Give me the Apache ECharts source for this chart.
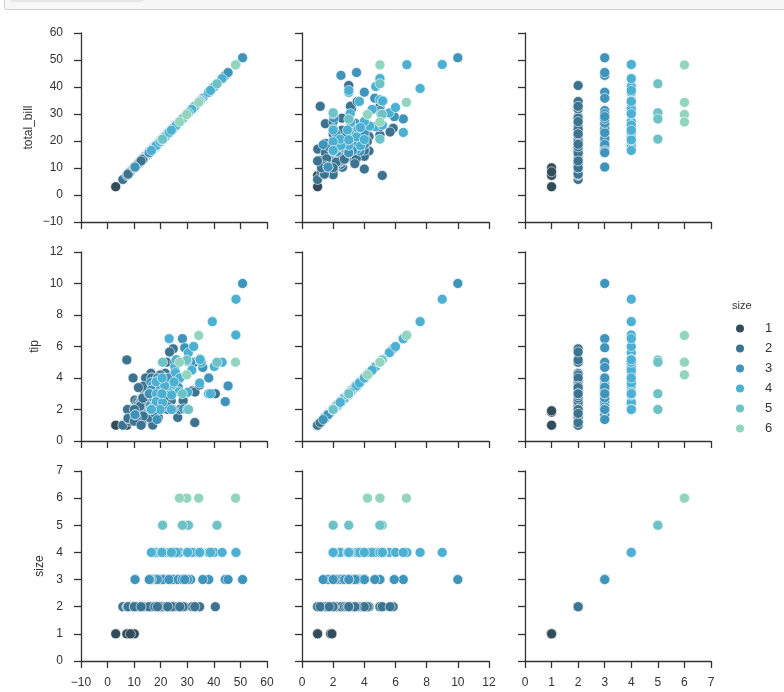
<!DOCTYPE html>
<html><head><meta charset="utf-8">
<script src="https://cdn.jsdelivr.net/npm/echarts@6/dist/echarts.min.js"></script>
<style>html,body{margin:0;padding:0;background:#fff}#c{width:784px;height:692px}</style>
</head><body><div id="c"></div>
<script>
const total_bill = [16.99,10.34,21.01,23.68,24.59,25.29,8.77,26.88,15.04,14.78,
10.27,35.26,15.42,18.43,14.83,21.58,10.33,16.29,16.97,20.65,
17.92,20.29,15.77,39.42,19.82,17.81,13.37,12.69,21.70,19.65,
9.55,18.35,15.06,20.69,17.78,24.06,16.31,16.93,18.69,31.27,
16.04,17.46,13.94,9.68,30.40,18.29,22.23,32.40,28.55,18.04,
12.54,10.29,34.81,9.94,25.56,19.49,38.01,26.41,11.24,48.27,
20.29,13.81,11.02,18.29,17.59,20.08,16.45,3.07,20.23,15.01,
12.02,17.07,26.86,25.28,14.73,10.51,17.92,27.20,22.76,17.29,
19.44,16.66,10.07,32.68,15.98,34.83,13.03,18.28,24.71,21.16,
28.97,22.49,5.75,16.32,22.75,40.17,27.28,12.03,21.01,12.46,
11.35,15.38,44.30,22.42,20.92,15.36,20.49,25.21,18.24,14.31,
14.00,7.25,38.07,23.95,25.71,17.31,29.93,10.65,12.43,24.08,
11.69,13.42,14.26,15.95,12.48,29.80,8.52,14.52,11.38,22.82,
19.08,20.27,11.17,12.26,18.26,8.51,10.33,14.15,16.00,13.16,
17.47,34.30,41.19,27.05,16.43,8.35,18.64,11.87,9.78,7.51,
14.07,13.13,17.26,24.55,19.77,29.85,48.17,25.00,13.39,16.49,
21.50,12.66,16.21,13.81,17.51,24.52,20.76,31.71,10.59,10.63,
50.81,15.81,7.25,31.85,16.82,32.90,17.89,14.48,9.60,34.63,
34.65,23.33,45.35,23.17,40.55,20.69,20.90,30.46,18.15,23.10,
15.69,19.81,28.44,15.48,16.58,7.56,10.34,43.11,13.00,13.51,
18.71,12.74,13.00,16.40,20.53,16.47,26.59,38.73,24.27,12.76,
30.06,25.89,48.33,13.27,28.17,12.90,28.15,11.59,7.74,30.14,
12.16,13.42,8.58,15.98,13.42,16.27,10.09,20.45,13.28,22.12,
24.01,15.69,11.61,10.77,15.53,10.07,12.60,32.83,35.83,29.03,
27.18,22.67,17.82,18.78];
const tip = [1.01,1.66,3.50,3.31,3.61,4.71,2.00,3.12,1.96,3.23,
1.71,5.00,1.57,3.00,3.02,3.92,1.67,3.71,3.50,3.35,
4.08,2.75,2.23,7.58,3.18,2.34,2.00,2.00,4.30,3.00,
1.45,2.50,3.00,2.45,3.27,3.60,2.00,3.07,2.31,5.00,
2.24,2.54,3.06,1.32,5.60,3.00,5.00,6.00,2.05,3.00,
2.50,2.60,5.20,1.56,4.34,3.51,3.00,1.50,1.76,6.73,
3.21,2.00,1.98,3.76,2.64,3.15,2.47,1.00,2.01,2.09,
1.97,3.00,3.14,5.00,2.20,1.25,3.08,4.00,3.00,2.71,
3.00,3.40,1.83,5.00,2.03,5.17,2.00,4.00,5.85,3.00,
3.00,3.50,1.00,4.30,3.25,4.73,4.00,1.50,3.00,1.50,
2.50,3.00,2.50,3.48,4.08,1.64,4.06,4.29,3.76,4.00,
3.00,1.00,4.00,2.55,4.00,3.50,5.07,1.50,1.80,2.92,
2.31,1.68,2.50,2.00,2.52,4.20,1.48,2.00,2.00,2.18,
1.50,2.83,1.50,2.00,3.25,1.25,2.00,2.00,2.00,2.75,
3.50,6.70,5.00,5.00,2.30,1.50,1.36,1.63,1.73,2.00,
2.50,2.00,2.74,2.00,2.00,5.14,5.00,3.75,2.61,2.00,
3.50,2.50,2.00,2.00,3.00,3.48,2.24,4.50,1.61,2.00,
10.00,3.16,5.15,3.18,4.00,3.11,2.00,2.00,4.00,3.55,
3.68,5.65,3.50,6.50,3.00,5.00,3.50,2.00,3.50,4.00,
1.50,4.19,2.56,2.02,4.00,1.44,2.00,5.00,2.00,2.00,
4.00,2.01,2.00,2.50,4.00,3.23,3.41,3.00,2.03,2.23,
2.00,5.16,9.00,2.50,6.50,1.10,3.00,1.50,1.44,3.09,
2.20,3.48,1.92,3.00,1.58,2.50,2.00,3.00,2.72,2.88,
2.00,3.00,3.39,1.47,3.00,1.25,1.00,1.17,4.67,5.92,
2.00,2.00,1.75,3.00];
const size = [2,3,3,2,4,4,2,4,2,2,
2,4,2,4,2,2,3,3,3,3,
2,2,2,4,2,4,2,2,2,2,
2,4,2,4,2,3,3,3,3,3,
3,2,2,2,4,2,2,4,3,2,
2,2,4,2,4,2,4,2,2,4,
2,2,2,4,3,3,2,1,2,2,
2,3,2,2,2,2,2,4,2,2,
2,2,1,2,2,4,2,2,2,2,
2,2,2,2,2,4,2,2,2,2,
2,2,3,2,2,2,2,2,2,2,
2,1,3,2,3,2,4,2,2,4,
2,2,2,2,2,6,2,2,2,3,
2,2,2,2,2,2,2,2,2,2,
2,6,5,6,2,2,3,2,2,2,
2,2,3,4,4,5,6,4,2,4,
4,2,3,2,2,3,2,4,2,2,
3,2,2,2,2,2,2,2,2,2,
4,2,3,4,2,5,3,5,3,3,
2,2,2,2,2,2,2,4,2,2,
3,2,2,2,4,3,3,4,2,2,
3,4,4,2,3,2,5,2,2,4,
2,2,1,3,2,2,2,4,2,2,
4,3,2,2,2,2,2,2,3,3,
2,2,2,2];

const varNames = ['total_bill','tip','size'];
const sizeLevels = [1,2,3,4,5,6];
const palette = ['#324d59','#3b7390','#3f94bb','#4cb0d2','#6dc2c6','#92d4bd'];
const axisMin = [-10, 0, 0];
const axisMax = [60, 12, 7];
const axisInterval = [10, 2, 1];

const vars = [total_bill, tip, size];
const colLeft = [81, 302, 525];
const colWidth = [186, 187, 186];
const rowTop = [33, 252, 471];
const rowHeight = [189, 189, 190];
const yNameGap = [46, 40, 35];
const lineColor = '#333';
const textColor = '#333';
const font = 'Liberation Sans, Arial, sans-serif';

const grids = [], xAxes = [], yAxes = [], series = [];
let gi = 0;
for (let r = 0; r < 3; r++) {
  for (let c = 0; c < 3; c++) {
    grids.push({left: colLeft[c], top: rowTop[r], width: colWidth[c], height: rowHeight[r], containLabel: false});
    xAxes.push({
      type: 'value', gridIndex: gi, min: axisMin[c], max: axisMax[c], interval: axisInterval[c],
      axisLine: {onZero: false, lineStyle: {color: lineColor, width: 1.3}},
      axisTick: {show: true, inside: false, length: 7, lineStyle: {color: lineColor, width: 1.3}},
      axisLabel: {show: r === 2, margin: 16, color: textColor, fontSize: 12, fontFamily: font,
        formatter: v => (v < 0 ? '\u2212' + (-v) : String(v))},
      splitLine: {show: false}
    });
    yAxes.push({
      type: 'value', gridIndex: gi, min: axisMin[r], max: axisMax[r], interval: axisInterval[r],
      name: c === 0 ? varNames[r] : '', nameLocation: 'middle', nameGap: yNameGap[r], nameRotate: 90,
      nameTextStyle: {color: textColor, fontSize: 12, fontFamily: font},
      axisLine: {onZero: false, lineStyle: {color: lineColor, width: 1.3}},
      axisTick: {show: true, inside: false, length: 7, lineStyle: {color: lineColor, width: 1.3}},
      axisLabel: {show: c === 0, margin: 18, color: textColor, fontSize: 12, fontFamily: font,
        formatter: v => (v < 0 ? '\u2212' + (-v) : String(v))},
      splitLine: {show: false}
    });
    sizeLevels.forEach((lvl, k) => {
      const data = [];
      for (let i = 0; i < size.length; i++) {
        if (size[i] === lvl) data.push([vars[c][i], vars[r][i]]);
      }
      series.push({
        name: String(lvl), type: 'scatter', xAxisIndex: gi, yAxisIndex: gi,
        data, symbol: 'circle', symbolSize: 10,
        itemStyle: {color: palette[k], borderColor: '#fff', borderWidth: 0.6, opacity: 1},
        emphasis: {disabled: true}, animation: false
      });
    });
    gi++;
  }
}

const chart = echarts.init(document.getElementById('c'), null, {renderer: 'canvas'});
chart.setOption({
  backgroundColor: '#fff',
  animation: false,
  grid: grids, xAxis: xAxes, yAxis: yAxes, series,
  legend: {
    data: sizeLevels.map(String), orient: 'vertical', left: 729, top: 317,
    icon: 'circle', itemWidth: 10, itemHeight: 10, itemGap: 7,
    textStyle: {color: textColor, fontSize: 13, lineHeight: 10, padding: [0,0,0,15], fontFamily: font},
    selectedMode: false
  },
  graphic: [
    {type: 'rect', shape: {x: 4.5, y: -5, width: 790, height: 14.5, r: 2}, style: {fill: '#f7f7f7', stroke: '#cfcfcf', lineWidth: 1}, silent: true},
    {type: 'rect', shape: {x: 10.5, y: -6, width: 133, height: 7, r: 2}, style: {fill: '#f7f7f7', stroke: '#d5d5d5', lineWidth: 1}, silent: true},
    {type: 'text', left: 732, top: 300, style: {text: 'size', fill: textColor, fontSize: 11, fontFamily: font}, silent: true}
  ]
});
</script></body></html>
